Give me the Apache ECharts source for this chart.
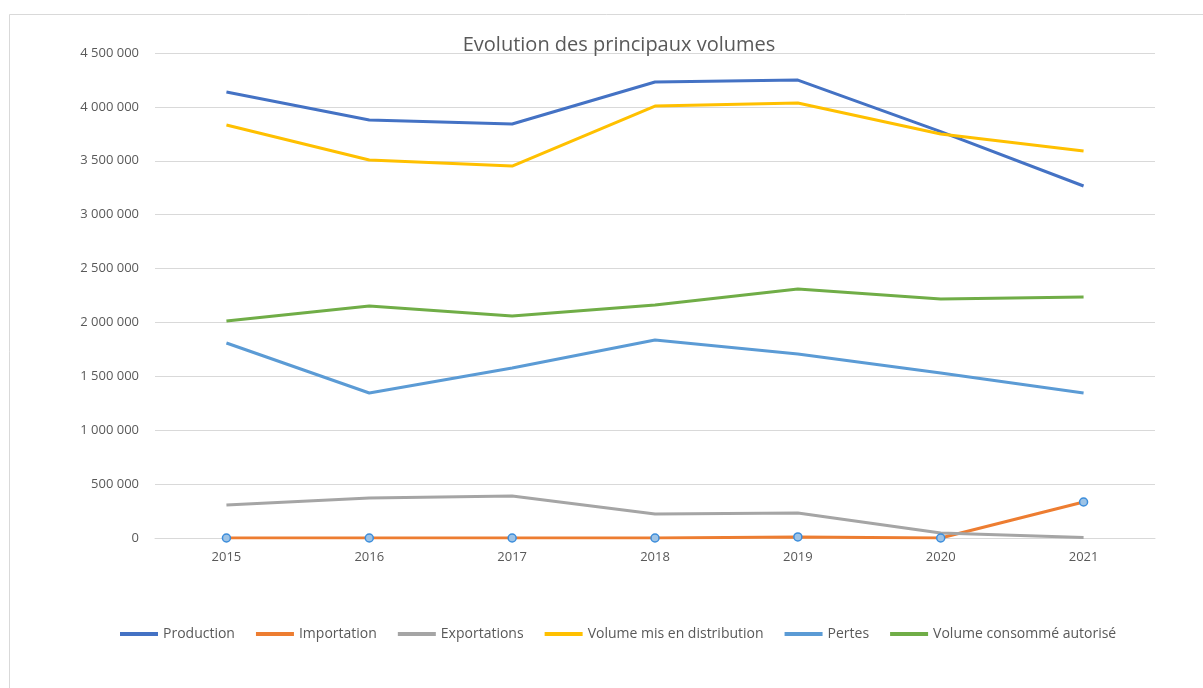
<!DOCTYPE html>
<html>
<head>
<meta charset="utf-8">
<script src="https://cdn.jsdelivr.net/npm/echarts@6/dist/echarts.min.js"></script>
<style>
  html, body { margin: 0; padding: 0; background: #fff; }
  #chart { width: 1203px; height: 688px; }
</style>
</head>
<body>
<div id="chart"></div>
<script>
var years = ['2015', '2016', '2017', '2018', '2019', '2020', '2021'];
var production = [4138000, 3878000, 3841000, 4231000, 4249000, 3770000, 3266000];
var importation = [0, 0, 0, 0, 10000, 0, 334000];
var exportations = [306000, 371000, 390000, 223000, 232000, 46000, 5000];
var distribution = [3832000, 3507000, 3451000, 4008000, 4036000, 3748000, 3591000];
var pertes = [1809000, 1345000, 1577000, 1837000, 1707000, 1531000, 1345000];
var consomme = [2013000, 2153000, 2060000, 2162000, 2310000, 2218000, 2236000];

var txt = '#595959';
var fontName = 'Open Sans';

function fmt(v) {
    return String(v).replace(/\B(?=(\d{3})+(?!\d))/g, ' ');
}

function lineSerie(name, data, color) {
    return {
        name: name,
        type: 'line',
        data: data,
        showSymbol: false,
        symbol: 'none',
        lineStyle: { color: color, width: 3 },
        itemStyle: { color: color },
        animation: false
    };
}

var chart = echarts.init(document.getElementById('chart'));

var impSerie = lineSerie('Importation', importation, '#ED7D31');
impSerie.symbol = 'circle';
impSerie.showSymbol = true;
impSerie.symbolSize = 8;
impSerie.itemStyle = { color: '#9DC3E6', borderColor: '#3C8DDB', borderWidth: 1.5 };

option = {
    backgroundColor: '#fff',
    animation: false,
    title: {
        text: 'Evolution des principaux volumes',
        left: 614,
        top: 30,
        textAlign: 'center',
        textStyle: { color: txt, fontSize: 20, fontWeight: 'normal', fontFamily: fontName }
    },
    graphic: [{
        type: 'rect',
        shape: { x: 9.5, y: 14.5, width: 1200, height: 700 },
        style: { fill: 'none', stroke: '#d9d9d9', lineWidth: 1 },
        silent: true
    }],
    grid: { left: 155, right: 48, top: 53, bottom: 150 },
    legend: {
        top: 622,
        left: 115,
        icon: 'rect',
        itemWidth: 38,
        itemHeight: 4,
        itemGap: 21,
        textStyle: { color: txt, fontSize: 14, fontFamily: fontName },
        data: [
            { name: 'Production' },
            { name: 'Importation', itemStyle: { color: '#ED7D31', borderWidth: 0 } },
            { name: 'Exportations' },
            { name: 'Volume mis en distribution' },
            { name: 'Pertes' },
            { name: 'Volume consommé autorisé' }
        ]
    },
    xAxis: {
        type: 'category',
        data: years,
        boundaryGap: true,
        axisLine: { show: true, lineStyle: { color: '#d9d9d9' } },
        axisTick: { show: false },
        axisLabel: { color: txt, fontSize: 13, fontFamily: fontName, margin: 13 }
    },
    yAxis: {
        type: 'value',
        min: 0,
        max: 4500000,
        interval: 500000,
        axisLine: { show: false },
        axisTick: { show: false },
        splitLine: { lineStyle: { color: '#d9d9d9' } },
        axisLabel: { color: txt, fontSize: 13, fontFamily: fontName, margin: 16, formatter: fmt }
    },
    series: [
        lineSerie('Production', production, '#4472C4'),
        impSerie,
        lineSerie('Exportations', exportations, '#A5A5A5'),
        lineSerie('Volume mis en distribution', distribution, '#FFC000'),
        lineSerie('Pertes', pertes, '#5B9BD5'),
        lineSerie('Volume consommé autorisé', consomme, '#70AD47')
    ]
};
chart.setOption(option);
</script>
</body>
</html>
